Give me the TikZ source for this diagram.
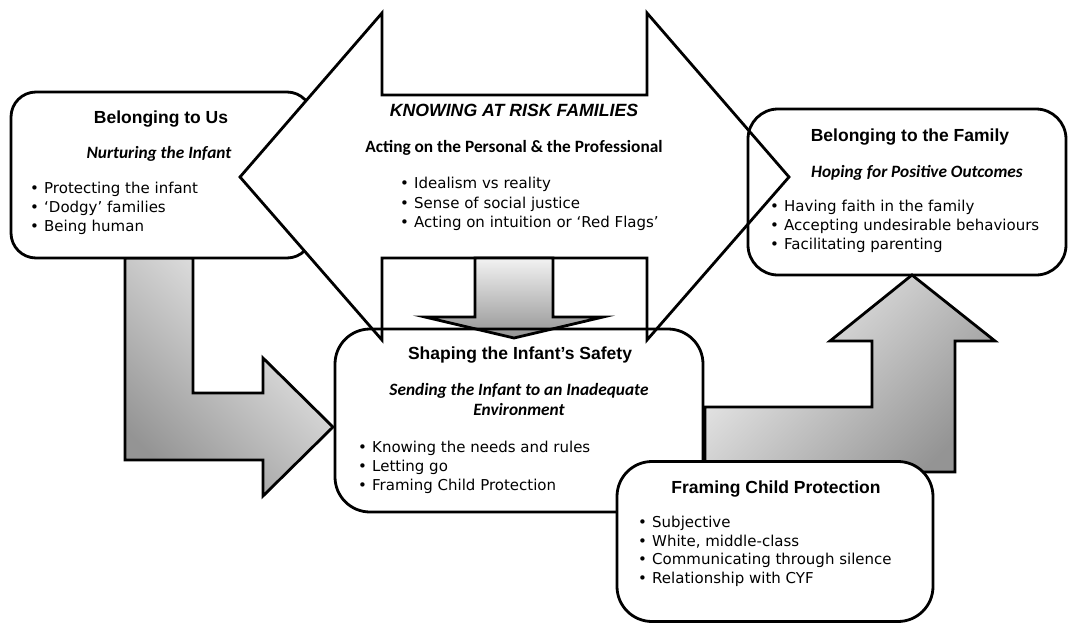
\documentclass[tikz,border=0pt]{standalone}
\usepackage{fontspec}
\setmainfont{DejaVu Sans}
\newfontfamily\headfont{Liberation Sans}
\newfontfamily\subfont{Carlito}
\usetikzlibrary{positioning}

\tikzset{
  box/.style={draw, line width=2.8pt, inner sep=0pt},
  whitebox/.style={box, fill=white},
  bigarrow/.style={draw, line width=2.8pt, fill=white},
  greyarrow/.style={draw, line width=2.8pt, top color=black!5, bottom color=black!42},
  heading/.style={anchor=base, inner sep=0pt, font=\headfont\bfseries\fontsize{17.5}{20}\selectfont},
  subheading/.style={anchor=base, inner sep=0pt, align=center, font=\subfont\bfseries\itshape\fontsize{17.3}{20}\selectfont},
  bullet/.style={anchor=base west, inner sep=0pt, font=\fontsize{15}{18}\selectfont},
}

\begin{document}
\begin{tikzpicture}[x=1pt, y=-1pt]
\useasboundingbox (0,0) rectangle (1068,624);

% Arrow from Belonging to Us into the Infant's Safety
\draw[greyarrow, shading angle=-45] (125,258) -- (193,258) -- (193,393) -- (263,393) -- (263,358)
  -- (333,427) -- (263,496) -- (263,460) -- (125,460) -- cycle;

% Belonging to Us
\node[whitebox, rounded corners=25pt, minimum width=301pt, minimum height=166pt] (us) at (161.5,175) {};

% Knowing at risk families
\draw[bigarrow] (240,177) -- (382,13) -- (382,95) -- (647,95) -- (647,13) -- (789,177)
  -- (647,340) -- (647,258) -- (382,258) -- (382,340) -- cycle;

% Belonging to the Family
\node[box, rounded corners=30pt, minimum width=318pt, minimum height=166pt] (family) at (907,192) {};

% Arrow down into the Infant's Safety
\draw[greyarrow] (475,258) -- (553,258) -- (553,317) -- (603,317) -- (514,338) -- (425,317)
  -- (475,317) -- cycle;

% Shaping the Infant's Safety
\node[box, rounded corners=35pt, minimum width=368pt, minimum height=183pt] (safety) at (519,420.5) {};

% Arrow up to Belonging to the Family
\draw[greyarrow, shading angle=45] (705,472) -- (705,407) -- (872,407) -- (872,341) -- (830,341)
  -- (912,275) -- (995,341) -- (955,341) -- (955,472) -- cycle;

% Framing Child Protection
\node[whitebox, rounded corners=35pt, minimum width=316pt, minimum height=160pt] (framing) at (775,541.5) {};

% Texts: Belonging to Us
\node[heading] (us-title) at (161,123) {Belonging to Us};
\node[subheading] (us-sub) at (159,158.5) {Nurturing the Infant};
\foreach \txt [count=\i] in {Protecting the infant, ‘Dodgy’ families, Being human}
  \node[bullet] (us-\i) at (30,{193.5+19*(\i-1)}) {\makebox[14pt][l]{•}\txt};

% Texts: Knowing at risk families
\node[anchor=base, inner sep=0pt, font=\headfont\bfseries\itshape\fontsize{17.7}{20}\selectfont]
  (risk-title) at (514,116.3) {KNOWING AT RISK FAMILIES};
\node[anchor=base, inner sep=0pt, font=\subfont\bfseries\fontsize{17.3}{20}\selectfont]
  (risk-sub) at (514,152.5) {Acting on the Personal \& the Professional};
\foreach \txt [count=\i] in {Idealism vs reality, Sense of social justice, Acting on intuition or ‘Red Flags’}
  \node[bullet] (risk-\i) at (400,{188.5+19.5*(\i-1)}) {\makebox[14pt][l]{•}\txt};

% Texts: Belonging to the Family
\node[heading] (family-title) at (910,141) {Belonging to the Family};
\node[subheading] (family-sub) at (917,177.5) {Hoping for Positive Outcomes};
\foreach \txt [count=\i] in {Having faith in the family, Accepting undesirable behaviours, Facilitating parenting}
  \node[bullet] (family-\i) at (770,{211.5+19*(\i-1)}) {\makebox[14pt][l]{•}\txt};

% Texts: Shaping the Infant's Safety
\node[heading] (safety-title) at (520,359) {Shaping the Infant’s Safety};
\node[subheading] (safety-sub) at (519,415.5) {Sending the Infant to an Inadequate\\Environment};
\foreach \txt [count=\i] in {Knowing the needs and rules, Letting go, Framing Child Protection}
  \node[bullet] (safety-\i) at (358,{452.5+19*(\i-1)}) {\makebox[14pt][l]{•}\txt};

% Texts: Framing Child Protection
\node[heading] (framing-title) at (776,493) {Framing Child Protection};
\foreach \txt [count=\i] in {Subjective, {White, middle-class}, Communicating through silence, Relationship with CYF}
  \node[bullet] (framing-\i) at (638,{527.5+18.5*(\i-1)}) {\makebox[14pt][l]{•}\txt};

\end{tikzpicture}
\end{document}
